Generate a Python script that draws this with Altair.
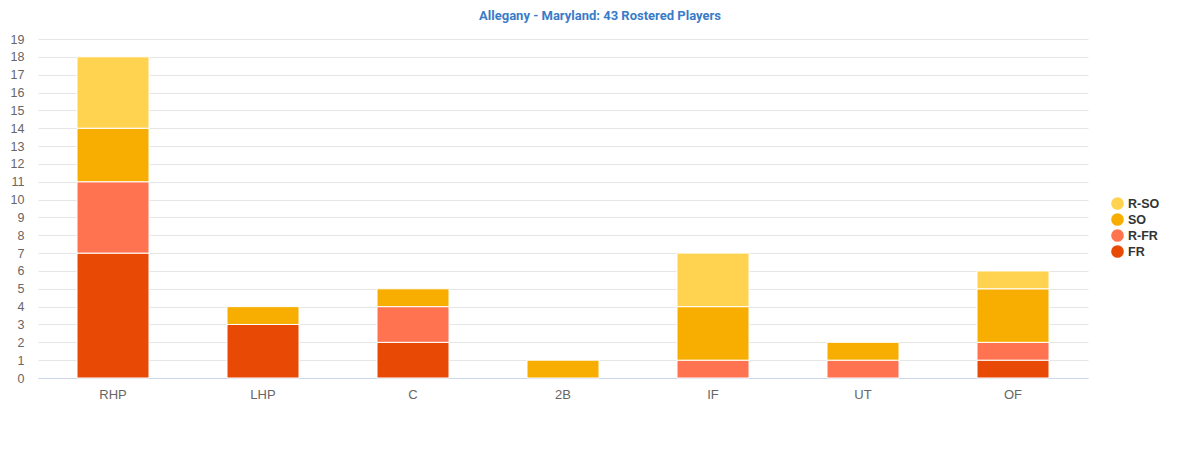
import altair as alt
import pandas as pd

positions = ["RHP", "LHP", "C", "2B", "IF", "UT", "OF"]
classes = ["FR", "R-FR", "SO", "R-SO"]
fr = [7, 3, 2, 0, 0, 0, 1]
r_fr = [4, 0, 2, 0, 1, 1, 1]
so = [3, 1, 1, 1, 3, 1, 3]
r_so = [4, 0, 0, 0, 3, 0, 1]
colors = ["#E84A06", "#FF7351", "#F7AE00", "#FFD24F"]

rows = []
for cls, vals in zip(classes, [fr, r_fr, so, r_so]):
    for p, v in zip(positions, vals):
        if v > 0:
            rows.append({"position": p, "cls": cls, "count": v, "order": classes.index(cls)})
df = pd.DataFrame(rows)

chart = alt.Chart(df).mark_bar(stroke="white", strokeWidth=1, size=72).encode(
    x=alt.X("position:N", sort=positions, title=None,
            scale=alt.Scale(paddingInner=0, paddingOuter=0),
            axis=alt.Axis(labelAngle=0, labelColor="#666666", labelFontSize=13,
                          labelFont="Liberation Sans", labelPadding=10, ticks=False,
                          domainColor="#ccd6eb", grid=False)),
    y=alt.Y("count:Q", stack="zero", title=None,
            scale=alt.Scale(domain=[0, 19], nice=False),
            axis=alt.Axis(values=list(range(0, 20)), labelColor="#666666", labelFontSize=12.5,
                          labelFont="Liberation Sans", labelPadding=14, ticks=False,
                          domain=False, gridColor="#e6e6e6")),
    color=alt.Color("cls:N", scale=alt.Scale(domain=classes, range=colors),
                    legend=alt.Legend(title=None, orient="none", legendX=1073, legendY=158,
                                      values=["R-SO", "SO", "R-FR", "FR"],
                                      symbolType="circle", symbolSize=160, symbolStrokeWidth=0,
                                      labelFont="Liberation Sans", labelFontWeight="bold",
                                      labelFontSize=12.5, labelColor="#333333", rowPadding=3)),
    order=alt.Order("order:Q", sort="ascending"),
).properties(
    width=1050, height=339,
    title=alt.TitleParams("Allegany - Maryland: 43 Rostered Players", color="#3A7BC8",
                          font="Roboto", fontSize=13, fontWeight="bold", anchor="middle",
                          dx=37, offset=10),
    autosize=alt.AutoSizeParams(type="none"),
    padding={"left": 30, "top": 31, "right": 104, "bottom": 90},
).configure_view(stroke=None)

chart.save("out.html", embed_options={"renderer": "svg", "actions": False})
